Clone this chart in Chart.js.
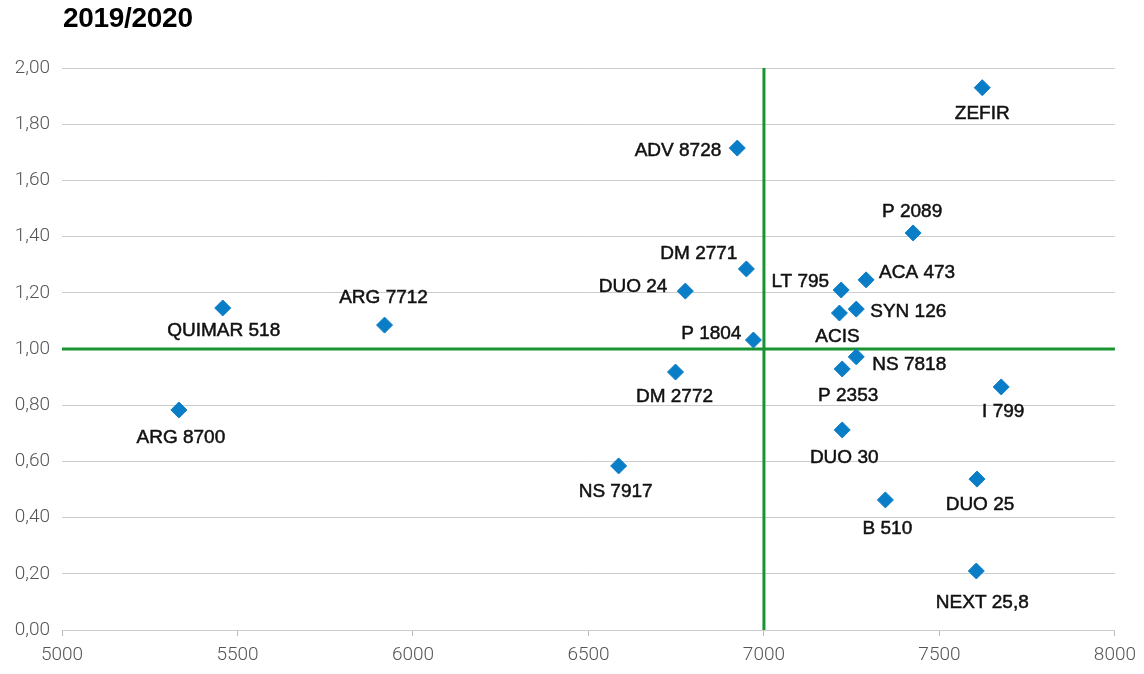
<!DOCTYPE html>
<html>
<head>
<meta charset="utf-8">
<script src="https://cdn.jsdelivr.net/npm/chart.js@4/dist/chart.umd.min.js"></script>
<style>
  body { margin: 0; background: #fff; }
  #wrap { position: relative; width: 1144px; height: 674px; }
  #titulo { position: absolute; left: 63px; top: 2px; margin: 0; font: bold 28px "Liberation Sans", Arial, sans-serif; color: #000; letter-spacing: -0.3px; }
</style>
</head>
<body>
<div id="wrap">
  <h1 id="titulo">2019/2020</h1>
  <canvas id="grafico" width="1144" height="674"></canvas>
</div>
<script>
// dados do gráfico
const nomes = ['ZEFIR', 'ADV 8728', 'P 2089', 'DM 2771', 'ACA 473', 'LT 795', 'DUO 24', 'SYN 126', 'ACIS',
    'QUIMAR 518', 'ARG 7712', 'P 1804', 'NS 7818', 'P 2353', 'DM 2772', 'I 799', 'ARG 8700', 'DUO 30',
    'NS 7917', 'DUO 25', 'B 510', 'NEXT 25,8'];
const valoresX = [7622, 6924, 7425, 6950, 7291, 7220, 6776, 7263, 7215,
    5458, 5919, 6970, 7263, 7223, 6748, 7676, 5333, 7223,
    6586, 7607, 7346, 7605];
const valoresY = [1.93, 1.715, 1.413, 1.285, 1.246, 1.21, 1.206, 1.142, 1.128,
    1.146, 1.085, 1.032, 0.972, 0.929, 0.918, 0.865, 0.783, 0.712,
    0.584, 0.537, 0.463, 0.21];
const ticksX = [5000, 5500, 6000, 6500, 7000, 7500, 8000];
const ticksY = [0, 0.2, 0.4, 0.6, 0.8, 1.0, 1.2, 1.4, 1.6, 1.8, 2.0];
const linhaVertical = 7000;
const linhaHorizontal = 1.0;

// posição dos rótulos (dx, dy, alinhamento) relativa ao ponto
const posRotulos = [
    [0, 26, 'center'], [-16, 3, 'right'], [-1, -21, 'center'], [-9, -15, 'right'], [13, -7, 'left'],
    [-12, -8, 'right'], [-18, -4, 'right'], [14, 3, 'left'], [-2, 24, 'center'], [1, 23, 'center'],
    [-1, -27, 'center'], [-12, -6, 'right'], [16, 8, 'left'], [6, 27, 'center'], [-1, 25, 'center'],
    [2, 25, 'center'], [2, 28, 'center'], [2, 28, 'center'], [-3, 26, 'center'], [3, 26, 'center'],
    [2, 29, 'center'], [6, 32, 'center']
];

const pontos = valoresX.map((x, i) => ({ x: x, y: valoresY[i] }));

const rotulosPlugin = {
    id: 'rotulos',
    afterDatasetsDraw(chart) {
        const meta = chart.getDatasetMeta(0);
        const ctx = chart.ctx;
        ctx.save();
        ctx.font = '19px "Liberation Sans", Arial, sans-serif';
        ctx.fillStyle = '#111';
        ctx.strokeStyle = '#111';
        ctx.lineWidth = 0.5;
        ctx.textBaseline = 'middle';
        meta.data.forEach((pt, i) => {
            const p = posRotulos[i];
            ctx.textAlign = p[2];
            ctx.fillText(nomes[i], pt.x + p[0], pt.y + p[1]);
            ctx.strokeText(nomes[i], pt.x + p[0], pt.y + p[1]);
        });
        ctx.restore();
    }
};

const fonteTicks = { family: 'Roboto, "Liberation Sans", sans-serif', size: 19, weight: '300' };

new Chart(document.getElementById('grafico').getContext('2d'), {
    type: 'scatter',
    data: {
        datasets: [
            {
                data: pontos,
                pointStyle: 'rectRot',
                pointRadius: 8,
                pointHoverRadius: 8,
                backgroundColor: '#0a7dc7',
                borderColor: '#0a7dc7',
                borderWidth: 1,
                order: 0
            },
            {
                type: 'line',
                data: [{ x: linhaVertical, y: ticksY[0] }, { x: linhaVertical, y: ticksY[ticksY.length - 1] }],
                borderColor: '#1a9432',
                borderWidth: 3,
                pointRadius: 0,
                order: 1
            },
            {
                type: 'line',
                data: [{ x: ticksX[0], y: linhaHorizontal }, { x: ticksX[ticksX.length - 1], y: linhaHorizontal }],
                borderColor: '#1a9432',
                borderWidth: 3,
                pointRadius: 0,
                order: 1
            }
        ]
    },
    options: {
        responsive: false,
        animation: false,
        layout: { padding: { top: 68, right: 28, left: 0, bottom: 0 } },
        plugins: { legend: { display: false }, tooltip: { enabled: false } },
        scales: {
            x: {
                type: 'linear',
                min: ticksX[0],
                max: ticksX[ticksX.length - 1],
                afterBuildTicks: scale => { scale.ticks = ticksX.map(v => ({ value: v })); },
                afterFit: scale => { scale.height = 44; },
                grid: { drawOnChartArea: false, drawTicks: true, tickLength: 6, color: '#bbb' },
                border: { display: true, color: '#ccc', width: 1 },
                ticks: { color: '#555', font: fonteTicks, padding: 8, maxRotation: 0, callback: v => String(v) }
            },
            y: {
                min: ticksY[0],
                max: ticksY[ticksY.length - 1],
                afterBuildTicks: scale => { scale.ticks = ticksY.map(v => ({ value: v })); },
                afterFit: scale => { scale.width = 62; },
                grid: { drawTicks: false, color: '#ccc' },
                border: { display: false },
                ticks: {
                    color: '#555',
                    font: fonteTicks,
                    padding: 12,
                    callback: v => v.toFixed(2).replace('.', ',')
                }
            }
        }
    },
    plugins: [rotulosPlugin]
});
</script>
</body>
</html>
